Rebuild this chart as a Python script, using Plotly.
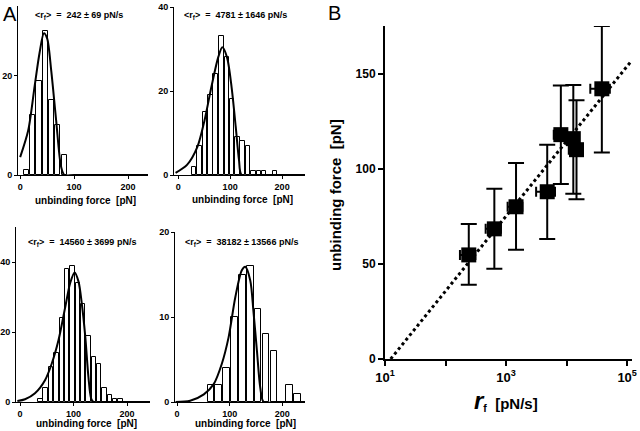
import plotly.graph_objects as go

W, H = 640, 431
FONT = "Arial, Liberation Sans, sans-serif"

# ---------------- Panel A histograms ----------------
a1_centers = [11, 23, 35, 47, 58, 70, 82]
a1_counts = [1, 12, 19, 29, 15, 10, 4]
a1_fit_x = [0, 15, 27, 36, 44, 50, 57.6, 66.7, 75.8, 82, 100, 237]
a1_fit_y = [3.6, 9, 18, 24.6, 28.5, 27.5, 21, 11, 1.7, 0, 0, 0]

a2_centers = [31, 41, 52, 62, 72, 83, 94, 104, 114, 124, 134, 145, 155, 165, 186]
a2_counts = [2, 7, 15, 19, 24, 33, 28, 18, 9, 8, 7, 1, 1, 1, 1]
a2_fit_x = [-5, 17, 37, 50.7, 64, 77, 85, 94, 102.7, 110.7, 117, 122, 150, 244]
a2_fit_y = [0.5, 2.4, 6.7, 13, 21, 28, 30.4, 28, 21, 11.5, 3.6, 0, 0, 0]

a3_centers = [38, 48, 58, 68, 78, 88, 98, 108, 118, 128, 138, 148, 158, 168, 178, 188]
a3_counts = [1, 4, 10, 14, 24, 38, 39, 34, 28, 19, 13, 11, 4, 2, 1, 1]
a3_fit_x = [-5, 9.4, 28, 47, 59.4, 72, 84.4, 93.8, 102, 109.4, 115.6, 122, 128, 133, 137.6, 160, 243]
a3_fit_y = [0.3, 0.8, 2.5, 6.3, 11, 17.7, 27, 34, 37, 34.4, 28, 18.7, 7, 1, 0, 0, 0]

a4_centers = [64, 79, 94, 109, 124, 139, 154, 169, 184, 214, 229]
a4_counts = [2, 2, 4, 10, 15, 16, 11, 8, 6, 2, 1]
a4_fit_x = [-3, 24.8, 50.8, 69.5, 85, 97.8, 110.5, 123, 129.5, 139, 145, 151.7, 158, 164.4, 190, 243]
a4_fit_y = [0, 0.15, 0.9, 2.1, 4.5, 7.6, 12.3, 15.5, 15.9, 14.3, 10.7, 6, 1.7, 0, 0, 0]

rate_labels = ["&lt;r<sub>f</sub>&gt;  =  242 ± 69 pN/s",
               "&lt;r<sub>f</sub>&gt;  =  4781 ± 1646 pN/s",
               "&lt;r<sub>f</sub>&gt;  =  14560 ± 3699 pN/s",
               "&lt;r<sub>f</sub>&gt;  =  38182 ± 13566 pN/s"]

# ---------------- Panel B ----------------
b_rate = [242, 640, 1460, 4781, 8030, 12900, 14560, 38182]
b_rate_err = [69, 180, 400, 1646, 1900, 3000, 3699, 13566]
b_force = [54.7, 68.4, 80, 87.9, 117.9, 115.8, 110, 142]
b_force_top = [71, 89.5, 103, 112.6, 143.7, 144, 136, 175]
b_force_bot = [39, 47.4, 57.4, 63, 92, 86.8, 84, 108.5]
fit_line_x = [12.4, 120000]
fit_line_y = [0, 157]


def px_x(p):
    return p / W


def px_y(p):
    return 1 - p / H


fig = go.Figure()

panels = [
    (a1_centers, a1_counts, 9.5, a1_fit_x, a1_fit_y, 1, (18, 148), (175, 6), [-4, 237], [0, 34], [0, 20]),
    (a2_centers, a2_counts, 8.5, a2_fit_x, a2_fit_y, 2, (174, 305), (175, 7), [-8, 244], [0, 40], [0, 20, 40]),
    (a3_centers, a3_counts, 8.3, a3_fit_x, a3_fit_y, 3, (16, 150), (402, 227), [-7.5, 243], [0, 50], [0, 20, 40]),
    (a4_centers, a4_counts, 12.5, a4_fit_x, a4_fit_y, 4, (175, 305), (402, 232), [-4, 243], [0, 20], [0, 10, 20]),
]

axis_common = dict(showline=True, linecolor="black", linewidth=1, ticks="outside",
                   ticklen=3, tickcolor="black", showgrid=False, zeroline=False, automargin=False,
                   tickfont=dict(family=FONT, size=9, color="black", weight="bold"))

for cen, cnt, bw, fx, fy, i, xd, yd, xr, yr, yt in panels:
    xa = "x" if i == 1 else f"x{i}"
    ya = "y" if i == 1 else f"y{i}"
    fig.add_trace(go.Bar(x=cen, y=cnt, width=bw, xaxis=xa, yaxis=ya,
                         marker=dict(color="white", line=dict(color="black", width=1)),
                         showlegend=False))
    fig.add_trace(go.Scatter(x=fx, y=fy, mode="lines", xaxis=xa, yaxis=ya,
                             line=dict(color="black", width=2, shape="spline", smoothing=0.8),
                             showlegend=False, cliponaxis=True))
    key = "" if i == 1 else str(i)
    fig.layout["xaxis" + key] = dict(domain=[px_x(xd[0]), px_x(xd[1])], range=xr,
                                     anchor=ya, tickvals=[0, 100, 200], **axis_common)
    fig.layout["yaxis" + key] = dict(domain=[px_y(yd[0]), px_y(yd[1])], range=yr,
                                     anchor=xa, tickvals=yt, **axis_common)

# Panel B
fig.add_trace(go.Scatter(x=fit_line_x, y=fit_line_y, mode="lines", xaxis="x5", yaxis="y5",
                         line=dict(color="black", width=3, dash="dot"), showlegend=False))
fig.add_trace(go.Scatter(
    x=b_rate, y=b_force, mode="markers", xaxis="x5", yaxis="y5", showlegend=False,
    marker=dict(symbol="square", size=15, color="black"),
    error_y=dict(type="data", symmetric=False,
                 array=[t - v for t, v in zip(b_force_top, b_force)],
                 arrayminus=[v - b for v, b in zip(b_force, b_force_bot)],
                 color="black", thickness=2, width=8),
    error_x=dict(type="data", array=b_rate_err, color="black", thickness=2, width=5),
))

fig.layout["xaxis5"] = dict(domain=[px_x(385), px_x(632)], type="log", range=[1, 5.08],
                            anchor="y5", tickvals=[10, 100, 1000, 10000, 100000],
                            ticktext=["10<sup>1</sup>", "", "10<sup>3</sup>", "", "10<sup>5</sup>"],
                            showline=True, linecolor="black", linewidth=2, ticks="outside",
                            ticklen=5, tickwidth=1.5, tickcolor="black", showgrid=False, zeroline=False,
                            automargin=False,
                            tickfont=dict(family=FONT, size=13, color="black", weight="bold"))
fig.layout["yaxis5"] = dict(domain=[px_y(359), px_y(26)], range=[0, 175], anchor="x5",
                            tickvals=[0, 50, 100, 150],
                            showline=True, linecolor="black", linewidth=2, ticks="outside",
                            ticklen=5, tickwidth=1.5, tickcolor="black", showgrid=False, zeroline=False,
                            automargin=False,
                            tickfont=dict(family=FONT, size=12, color="black", weight="bold"))

ann = []
for txt, (cx, cy) in zip(rate_labels, [(79, 15), (235, 15), (82, 243), (241, 243)]):
    ann.append(dict(text=txt, x=px_x(cx), y=px_y(cy), xref="paper", yref="paper",
                    showarrow=False, xanchor="center", yanchor="middle",
                    font=dict(family=FONT, size=9, color="black", weight="bold")))
for cx, cy in [(85, 200), (242, 199), (86, 423), (245, 423)]:
    ann.append(dict(text="unbinding force  [pN]", x=px_x(cx), y=px_y(cy), xref="paper", yref="paper",
                    showarrow=False, xanchor="center", yanchor="middle",
                    font=dict(family=FONT, size=10, color="black", weight="bold")))
ann.append(dict(text="A", x=px_x(1), y=px_y(1), xref="paper", yref="paper", showarrow=False,
                xanchor="left", yanchor="top", font=dict(family=FONT, size=20, color="black")))
ann.append(dict(text="B", x=px_x(326), y=px_y(0), xref="paper", yref="paper", showarrow=False,
                xanchor="left", yanchor="top", font=dict(family=FONT, size=20, color="black")))
ann.append(dict(text="unbinding force  [pN]", x=px_x(335), y=px_y(195), xref="paper", yref="paper",
                showarrow=False, textangle=-90, xanchor="center", yanchor="middle",
                font=dict(family=FONT, size=15, color="black", weight="bold")))
ann.append(dict(text="<span style='font-size:24px'><i>r</i></span><sub>f</sub>  [pN/s]",
                x=px_x(506), y=px_y(400), xref="paper", yref="paper",
                showarrow=False, xanchor="center", yanchor="middle",
                font=dict(family=FONT, size=15, color="black", weight="bold")))

fig.update_layout(width=W, height=H, margin=dict(l=0, r=0, t=0, b=0),
                  paper_bgcolor="white", plot_bgcolor="white", bargap=0,
                  annotations=ann, showlegend=False)

fig.write_html("out.html", config={"displayModeBar": False},
               post_script="document.body.style.margin='0';document.body.style.overflow='hidden';")
